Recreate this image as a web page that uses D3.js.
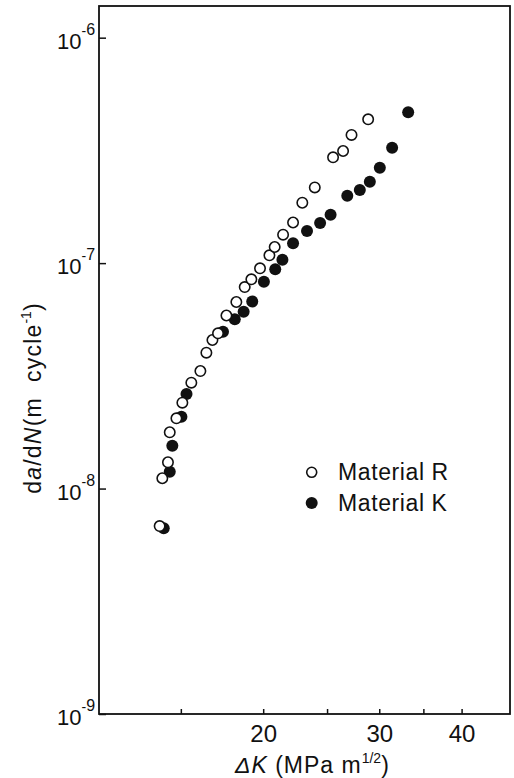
<!DOCTYPE html>
<html>
<head>
<meta charset="utf-8">
<script src="https://cdn.jsdelivr.net/npm/d3@7"></script>
<style>
    body { margin: 0; background: #fff; }
    svg { display: block; font-family: "Liberation Sans", Arial, sans-serif; }
    text { fill: #111; }
</style>
</head>
<body>
<svg id="chart"></svg>
<script>
// delta K (MPa m^1/2), da/dN (m/cycle)
const materialR_dK = [13.93, 14.06, 14.34, 14.43, 14.77, 15.08, 15.56, 16.06, 16.40, 16.75, 17.08, 17.59, 18.21,
    18.75, 19.19, 19.78, 20.44, 20.82, 21.44, 22.20, 22.93, 23.95, 25.53, 26.44, 27.23, 28.86]
const materialR_rate = [6.82e-9, 1.111e-8, 1.308e-8, 1.777e-8, 2.049e-8, 2.403e-8, 2.948e-8, 3.322e-8, 4.006e-8,
    4.56e-8, 4.884e-8, 5.857e-8, 6.722e-8, 7.832e-8, 8.474e-8, 9.486e-8, 1.083e-7, 1.179e-7, 1.337e-7,
    1.514e-7, 1.853e-7, 2.166e-7, 2.947e-7, 3.143e-7, 3.702e-7, 4.345e-7]

const materialK_dK = [14.13, 14.43, 14.56, 15.03, 15.30, 17.38, 18.11, 18.68, 19.25, 20.05, 20.86, 21.39, 22.20,
    23.31, 24.40, 25.31, 26.83, 28.03, 29.03, 30.06, 31.38, 33.19]
const materialK_rate = [6.66e-9, 1.188e-8, 1.549e-8, 2.083e-8, 2.627e-8, 4.965e-8, 5.633e-8, 6.088e-8, 6.756e-8,
    8.267e-8, 9.389e-8, 1.036e-7, 1.225e-7, 1.389e-7, 1.507e-7, 1.638e-7, 1.989e-7, 2.111e-7, 2.298e-7,
    2.651e-7, 3.251e-7, 4.667e-7]

const xTicks = [15, 20, 25, 30, 35, 40]
const xTickLabels = [20, 30, 40]
const yTicks = [1e-6, 1e-7, 1e-8, 1e-9]
const yTickExp = ['6', '7', '8', '9']
const legendLabels = ['Material R', 'Material K']

const width = 514,
    height = 778
const MARGIN = {
    top: 6,
    right: 4,
    bottom: 64,
    left: 99
}

const $svg = d3.select('#chart')
    .attr('width', width)
    .attr('height', height)

const xScale = d3.scaleLog()
    .domain([11.27, 47.37])
    .range([MARGIN.left, width - MARGIN.right])
const yScale = d3.scaleLog()
    .domain([1e-9, 1.382e-6])
    .range([height - MARGIN.bottom, MARGIN.top])

// frame
$svg.append('rect')
    .attr('x', MARGIN.left)
    .attr('y', MARGIN.top)
    .attr('width', width - MARGIN.left - MARGIN.right)
    .attr('height', height - MARGIN.top - MARGIN.bottom)
    .attr('fill', 'none')
    .attr('stroke', '#111')
    .attr('stroke-width', 1.8)

// x axis, ticks pointing inward
const xAxis = $svg.append('g')
    .attr('class', 'x-axis')
    .attr('transform', `translate(0, ${height - MARGIN.bottom})`)
    .call(d3.axisBottom(xScale)
        .tickValues(xTicks)
        .tickSize(-5)
        .tickPadding(11)
        .tickFormat(d => xTickLabels.includes(d) ? d : ''))
xAxis.select('.domain').remove()
xAxis.selectAll('line').attr('stroke', '#111').attr('stroke-width', 1.5)
xAxis.selectAll('text')
    .attr('font-size', 24)
    .attr('font-family', '"Liberation Sans", Arial, sans-serif')
    .attr('fill', '#111')

// y axis
const yAxis = $svg.append('g')
    .attr('class', 'y-axis')
    .attr('transform', `translate(${MARGIN.left}, 0)`)
    .call(d3.axisLeft(yScale)
        .tickValues(yTicks)
        .tickSize(-7)
        .tickFormat(''))
yAxis.select('.domain').remove()
yAxis.selectAll('line').attr('stroke', '#111').attr('stroke-width', 1.5)

// 10^-n labels
const yLabels = $svg.append('g').attr('class', 'y-labels')
yTicks.forEach((t, i) => {
    const ty = yScale(t)
    const lbl = yLabels.append('text')
        .attr('x', 57)
        .attr('y', ty + 11)
        .attr('font-size', 22)
    lbl.append('tspan').text('10')
    lbl.append('tspan')
        .attr('font-size', 14)
        .attr('dy', -13)
        .text('-')
    lbl.append('tspan')
        .attr('font-size', 16)
        .attr('dy', -1)
        .text(yTickExp[i])
})

// points - filled first so open circles sit on top
$svg.append('g')
    .attr('class', 'material-k')
    .selectAll('circle')
    .data(materialK_dK.map((d, i) => [d, materialK_rate[i]]))
    .join('circle')
    .attr('cx', d => xScale(d[0]))
    .attr('cy', d => yScale(d[1]))
    .attr('r', 6)
    .attr('fill', '#111')

$svg.append('g')
    .attr('class', 'material-r')
    .selectAll('circle')
    .data(materialR_dK.map((d, i) => [d, materialR_rate[i]]))
    .join('circle')
    .attr('cx', d => xScale(d[0]))
    .attr('cy', d => yScale(d[1]))
    .attr('r', 5.2)
    .attr('fill', '#fff')
    .attr('stroke', '#111')
    .attr('stroke-width', 1.6)

// legend
const legend = $svg.append('g').attr('class', 'legend')
legend.append('circle')
    .attr('cx', 311.7).attr('cy', 472.3).attr('r', 5)
    .attr('fill', '#fff').attr('stroke', '#111').attr('stroke-width', 1.6)
legend.append('text')
    .attr('x', 338).attr('y', 480)
    .attr('font-size', 23)
    .attr('letter-spacing', 0.6)
    .text(legendLabels[0])
legend.append('circle')
    .attr('cx', 311.7).attr('cy', 503).attr('r', 6)
    .attr('fill', '#111')
legend.append('text')
    .attr('x', 338).attr('y', 511)
    .attr('font-size', 23)
    .attr('letter-spacing', 0.6)
    .text(legendLabels[1])

// x title
const xTitle = $svg.append('text')
    .attr('x', 235)
    .attr('y', 773)
    .attr('font-size', 23)
    .attr('letter-spacing', 1)
    .style('white-space', 'pre')
xTitle.append('tspan').attr('font-style', 'italic').text('\u0394K')
xTitle.append('tspan').text(' (MPa m')
xTitle.append('tspan').attr('font-size', 14).attr('dy', -10).attr('letter-spacing', 0).text('1/2')
xTitle.append('tspan').attr('dy', 10).text(')')

// y title
const yTitle = $svg.append('text')
    .attr('transform', 'translate(41, 398) rotate(-90)')
    .attr('text-anchor', 'middle')
    .attr('font-size', 23)
    .attr('letter-spacing', 1.2)
    .style('white-space', 'pre')
yTitle.append('tspan').text('d')
yTitle.append('tspan').attr('font-style', 'italic').text('a')
yTitle.append('tspan').text('/d')
yTitle.append('tspan').attr('font-style', 'italic').text('N')
yTitle.append('tspan').text('(m  cycle')
yTitle.append('tspan').attr('font-size', 14).attr('dy', -10).attr('letter-spacing', 0).text('-1')
yTitle.append('tspan').attr('dy', 10).text(')')
</script>
</body>
</html>
